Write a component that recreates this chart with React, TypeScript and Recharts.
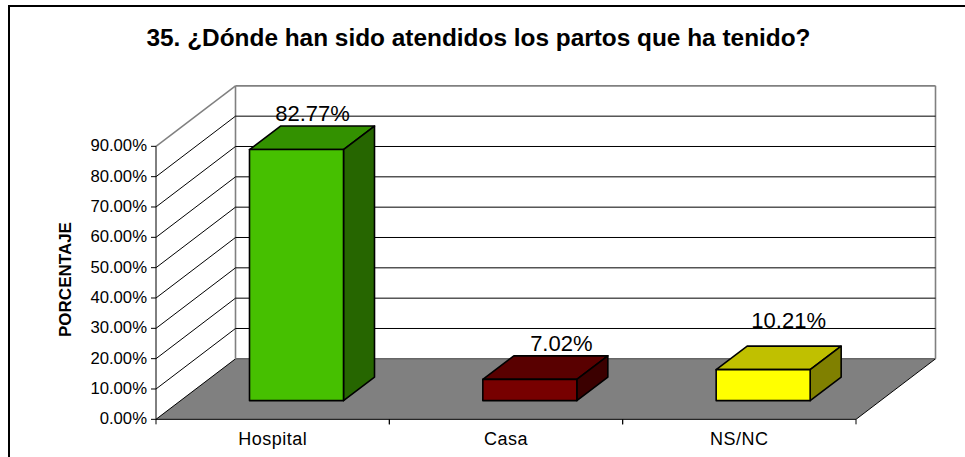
import { Bar, BarChart, CartesianGrid, LabelList, XAxis, YAxis } from 'recharts';

const categories = ['Hospital', 'Casa', 'NS/NC'];
const percentages = [82.77, 7.02, 10.21];
const frontColors = ['#46c000', '#770000', '#ffff00'];
const topColors = ['#339100', '#590000', '#c0c000'];
const sideColors = ['#266600', '#3b0000', '#808000'];
const yTicks = [0, 10, 20, 30, 40, 50, 60, 70, 80, 90];

const data = categories.map((name, i) => ({ name, value: percentages[i] }));

const FONT = '"Liberation Sans", Arial, sans-serif';
const WIDTH = 965;
const HEIGHT = 457;
const LEFT = 156;
const RIGHT = 856;
const TOP = 146.33;
const BOTTOM = 419.33;
const BAND = (RIGHT - LEFT) / categories.length;

// floor depth of the fake 3D box
const WALL_DX = 79.5;
const WALL_DY = -60.5;
// where the bars sit on the floor, and how deep they are
const BAR_DX = 23.5;
const BAR_DY = -18.7;
const DEPTH_DX = 31;
const DEPTH_DY = -23.5;
// the data labels were dragged around by hand in the original
const LABEL_NUDGE = [
  { dx: 16, y: -28.8 },
  { dx: 31.5, y: -28 },
  { dx: 25.5, y: -41.7 },
];

function GridLine(props: any) {
  const { y1 } = props;
  const isFloor = y1 > BOTTOM - 1;
  const isTop = y1 < TOP + 1;
  const backY = y1 + WALL_DY;
  const backLeft = LEFT + WALL_DX;
  const backRight = RIGHT + WALL_DX;
  if (isFloor) {
    return (
      <g key="floor">
        <polygon
          points={`${LEFT},${BOTTOM} ${RIGHT},${BOTTOM} ${backRight},${backY} ${backLeft},${backY}`}
          fill="#808080"
          stroke="none"
        />
        <line x1={backLeft} y1={backY} x2={backRight} y2={backY} stroke="#666666" strokeWidth={1.5} />
        <line x1={RIGHT} y1={BOTTOM} x2={backRight} y2={backY} stroke="#000000" strokeWidth={1} />
        <line x1={LEFT} y1={BOTTOM} x2={backLeft} y2={backY} stroke="#000000" strokeWidth={1} />
        <line x1={backLeft} y1={TOP + WALL_DY} x2={backLeft} y2={backY} stroke="#808080" strokeWidth={1.6} />
        <line x1={backRight} y1={TOP + WALL_DY} x2={backRight} y2={backY} stroke="#808080" strokeWidth={1.6} />
      </g>
    );
  }
  const color = isTop ? '#808080' : '#000000';
  const weight = isTop ? 1.6 : 1;
  return (
    <g key={`wall-${y1}`}>
      <line x1={LEFT} y1={y1} x2={backLeft} y2={backY} stroke={color} strokeWidth={isTop ? 1.5 : 1} />
      <line x1={backLeft} y1={backY} x2={backRight} y2={backY} stroke={color} strokeWidth={weight} />
    </g>
  );
}

function Box3D(props: any) {
  const { x, y, width, height, index } = props;
  const l = x + BAR_DX;
  const r = l + width;
  const t = y + BAR_DY;
  const b = t + height;
  const edge = { stroke: '#000000', strokeWidth: 1.6, strokeLinejoin: 'round' as const };
  return (
    <g>
      <polygon
        points={`${l},${t} ${r},${t} ${r + DEPTH_DX},${t + DEPTH_DY} ${l + DEPTH_DX},${t + DEPTH_DY}`}
        fill={topColors[index]}
        {...edge}
      />
      <polygon
        points={`${r},${t} ${r + DEPTH_DX},${t + DEPTH_DY} ${r + DEPTH_DX},${b + DEPTH_DY} ${r},${b}`}
        fill={sideColors[index]}
        {...edge}
      />
      <rect x={l} y={t} width={width} height={height} fill={frontColors[index]} {...edge} />
    </g>
  );
}

function ValueLabel(props: any) {
  const { x, y, width, index, value } = props;
  const nudge = LABEL_NUDGE[index];
  return (
    <text
      x={x + BAR_DX + width / 2 + nudge.dx}
      y={y + BAR_DY + nudge.y}
      textAnchor="middle"
      fontFamily={FONT}
      fontSize={22}
      fill="#000000"
    >
      {value.toFixed(2)}%
    </text>
  );
}

function CategoryTick(props: any) {
  const { x, payload } = props;
  return (
    <g>
      <line x1={x - BAND / 2} y1={BOTTOM} x2={x - BAND / 2} y2={BOTTOM + 5} stroke="#000000" />
      <line x1={x + BAND / 2} y1={BOTTOM} x2={x + BAND / 2} y2={BOTTOM + 5} stroke="#000000" />
      <text
        x={x}
        y={BOTTOM + 26}
        textAnchor="middle"
        fontFamily={FONT}
        fontSize={18}
        letterSpacing={0.5}
        fill="#000000"
      >
        {payload.value}
      </text>
    </g>
  );
}

export default function App() {
  return (
    <div style={{ position: 'absolute', left: 0, top: 0, width: WIDTH, height: HEIGHT, background: '#ffffff', overflow: 'hidden' }}>
      <BarChart
        width={WIDTH}
        height={HEIGHT}
        data={data}
        barCategoryGap={0}
        margin={{ top: TOP, right: WIDTH - RIGHT, bottom: 0, left: 0 }}
      >
        <line x1={8} y1={6} x2={WIDTH} y2={6} stroke="#000000" strokeWidth={2} />
        <line x1={9} y1={6} x2={9} y2={HEIGHT} stroke="#000000" strokeWidth={2} />
        <text x={478.5} y={46} textAnchor="middle" fontFamily={FONT} fontWeight="bold" fontSize={24.4} fill="#000000">
          35. ¿Dónde han sido atendidos los partos que ha tenido?
        </text>
        <text
          transform="translate(71 279.5) rotate(-90)"
          textAnchor="middle"
          fontFamily={FONT}
          fontWeight="bold"
          fontSize={17}
          fill="#000000"
        >
          PORCENTAJE
        </text>
        <CartesianGrid vertical={false} horizontal={(p: any) => <GridLine key={p.y1} {...p} />} />
        <XAxis
          dataKey="name"
          interval={0}
          axisLine={{ stroke: '#000000' }}
          tickLine={false}
          tick={<CategoryTick />}
          height={HEIGHT - BOTTOM}
        />
        <YAxis
          width={LEFT}
          domain={[0, 90]}
          ticks={yTicks}
          interval={0}
          tickFormatter={(v: number) => `${v.toFixed(2)}%`}
          axisLine={{ stroke: '#000000' }}
          tickLine={{ stroke: '#000000' }}
          tickSize={5}
          tickMargin={4}
          dy={-1}
          tick={{ fontFamily: FONT, fontSize: 16.7, fill: '#000000', dy: -1 }}
        />
        <Bar dataKey="value" barSize={94} shape={<Box3D />} isAnimationActive={false}>
          <LabelList dataKey="value" content={<ValueLabel />} />
        </Bar>
      </BarChart>
    </div>
  );
}
